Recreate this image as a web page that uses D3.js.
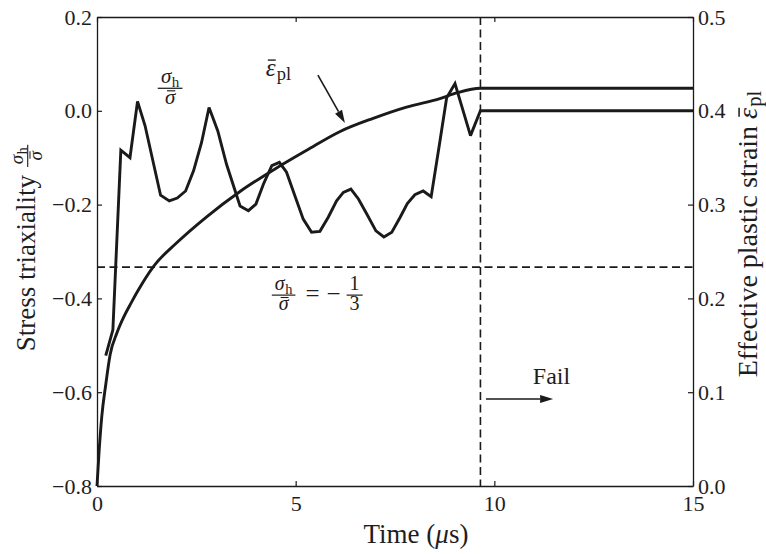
<!DOCTYPE html>
<html>
<head>
<meta charset="utf-8">
<script src="https://cdn.jsdelivr.net/npm/d3@7"></script>
<style>
  html, body { margin: 0; padding: 0; background: #fff; }
  svg text {
    font-family: "Liberation Serif", "Times New Roman", Times, Tinos, "Noto Serif", "DejaVu Serif", "Nimbus Roman", FreeSerif, serif;
    fill: #1e1e1e;
  }
</style>
</head>
<body>
<svg id="chart" width="766" height="554"></svg>
<script>
// ---- data ----
// stress triaxiality history (time in microseconds)
const triaxTime = [0.22, 0.40, 0.60, 0.83, 1.02, 1.21, 1.60, 1.82, 2.02, 2.23, 2.43, 2.63, 2.82, 3.04, 3.26, 3.60, 3.81, 4.00, 4.19, 4.40, 4.59, 4.77, 4.98, 5.19, 5.40, 5.61, 5.82, 6.03, 6.20, 6.39, 6.58, 6.79, 7.02, 7.22, 7.42, 7.63, 7.81, 8.00, 8.21, 8.41, 8.62, 8.80, 9.01, 9.20, 9.40, 9.65, 15.0];
const triaxValue = [-0.522, -0.467, -0.084, -0.100, 0.020, -0.032, -0.180, -0.192, -0.186, -0.171, -0.128, -0.068, 0.007, -0.043, -0.114, -0.203, -0.213, -0.199, -0.156, -0.117, -0.110, -0.131, -0.181, -0.231, -0.259, -0.257, -0.227, -0.192, -0.174, -0.167, -0.188, -0.220, -0.256, -0.269, -0.259, -0.227, -0.198, -0.179, -0.171, -0.183, -0.071, 0.028, 0.058, 0.004, -0.053, 0.000, 0.000];

// effective plastic strain history
const strainTime = [0, 0.05, 0.12, 0.22, 0.33, 0.50, 0.66, 0.87, 1.00, 1.42, 2.00, 2.76, 3.60, 4.44, 5.28, 6.12, 6.95, 7.79, 8.63, 9.05, 9.65, 15.0];
const strainValue = [0, 0.035, 0.074, 0.108, 0.140, 0.163, 0.179, 0.196, 0.206, 0.234, 0.259, 0.287, 0.314, 0.337, 0.358, 0.378, 0.392, 0.404, 0.413, 0.419, 0.424, 0.424];

const failTime = 9.65;           // failure instant
const triaxThreshold = -1 / 3;   // reference triaxiality level

// axis ticks
const timeTicks = [0, 5, 10, 15];
const timeTickLabels = ["0", "5", "10", "15"];
const triaxTicks = [-0.8, -0.6, -0.4, -0.2, 0.0, 0.2];
const triaxTickLabels = ["\u22120.8", "\u22120.6", "\u22120.4", "\u22120.2", "0.0", "0.2"];
const strainTicks = [0.0, 0.1, 0.2, 0.3, 0.4, 0.5];
const strainTickLabels = ["0.0", "0.1", "0.2", "0.3", "0.4", "0.5"];

// ---- layout ----
const svg = d3.select("#chart");
const ink = "#1a1a1a";
const plot = { left: 97, right: 693, top: 17, bottom: 486 };

const x = d3.scaleLinear().domain([0, 15]).range([plot.left, plot.right]);
const yL = d3.scaleLinear().domain([-0.8, 0.2]).range([plot.bottom, plot.top]);
const yR = d3.scaleLinear().domain([0, 0.5]).range([plot.bottom, plot.top]);

const TICK_FONT = 22;
const TITLE_FONT = 27;

// ---- reference lines ----
svg.append("line")
  .attr("x1", x(0)).attr("x2", x(15))
  .attr("y1", yL(triaxThreshold)).attr("y2", yL(triaxThreshold))
  .attr("stroke", ink).attr("stroke-width", 1.6).attr("stroke-dasharray", "8,4.5");
svg.append("line")
  .attr("x1", x(failTime)).attr("x2", x(failTime))
  .attr("y1", plot.top).attr("y2", plot.bottom)
  .attr("stroke", ink).attr("stroke-width", 1.6).attr("stroke-dasharray", "8,4.5");

// ---- series ----
const triaxLine = d3.line()
  .x((d, i) => x(triaxTime[i]))
  .y(d => yL(d));
svg.append("path")
  .attr("d", triaxLine(triaxValue))
  .attr("fill", "none").attr("stroke", ink).attr("stroke-width", 2.9)
  .attr("stroke-linejoin", "miter").attr("stroke-miterlimit", 3);

const strainLine = d3.line()
  .x((d, i) => x(strainTime[i]))
  .y(d => yR(d))
  .curve(d3.curveMonotoneX);
svg.append("path")
  .attr("d", strainLine(strainValue))
  .attr("fill", "none").attr("stroke", ink).attr("stroke-width", 2.9);

// ---- axes (ticks point inward) ----
function styleAxis(g) {
  g.attr("font-family", null);
  g.selectAll("path.domain").attr("stroke", ink).attr("stroke-width", 1.3);
  g.selectAll(".tick line").attr("stroke", ink).attr("stroke-width", 1.2);
  g.selectAll(".tick text").attr("font-size", TICK_FONT).attr("fill", "#1e1e1e");
}

svg.append("g").attr("transform", `translate(0,${plot.bottom})`)
  .call(d3.axisBottom(x).tickValues(timeTicks)
    .tickFormat((d, i) => timeTickLabels[i]).tickSizeInner(-5).tickSizeOuter(0).tickPadding(9))
  .call(styleAxis);
svg.append("g").attr("transform", `translate(0,${plot.top})`)
  .call(d3.axisTop(x).tickValues(timeTicks)
    .tickFormat("").tickSizeInner(-5).tickSizeOuter(0))
  .call(styleAxis);
svg.append("g").attr("transform", `translate(${plot.left},0)`)
  .call(d3.axisLeft(yL).tickValues(triaxTicks)
    .tickFormat((d, i) => triaxTickLabels[i]).tickSizeInner(-5).tickSizeOuter(0).tickPadding(5))
  .call(styleAxis);
svg.append("g").attr("transform", `translate(${plot.right},0)`)
  .call(d3.axisRight(yR).tickValues(strainTicks)
    .tickFormat((d, i) => strainTickLabels[i]).tickSizeInner(-5).tickSizeOuter(0).tickPadding(5))
  .call(styleAxis);

// ---- small math typesetting helpers ----
// Lays out a run of pieces left to right starting at (x0, y0); returns width.
function mathRun(g, pieces, x0, y0) {
  let cx = x0;
  pieces.forEach(p => {
    cx += (p.pre || 0);
    const by = y0 + (p.dy || 0);
    const t = g.append("text")
      .attr("x", cx).attr("y", by)
      .attr("font-size", p.size)
      .attr("font-style", p.italic ? "italic" : "normal")
      .text(p.text);
    const w = t.node().getComputedTextLength();
    if (p.bar) {
      g.append("line")
        .attr("x1", cx + w * 0.2).attr("x2", cx + w * 1.0)
        .attr("y1", by - p.size * 0.64).attr("y2", by - p.size * 0.64)
        .attr("stroke", "#1e1e1e").attr("stroke-width", Math.max(1, p.size * 0.055));
    }
    cx += w + (p.kern || 0);
  });
  return cx - x0;
}

// Fraction whose bar sits at axisY and starts at x0; returns width.
function fraction(g, num, den, x0, axisY, size) {
  const gn = g.append("g"), gd = g.append("g");
  const wn = mathRun(gn, num, 0, 0);
  const wd = mathRun(gd, den, 0, 0);
  const w = Math.max(wn, wd) + size * 0.3;
  gn.attr("transform", `translate(${x0 + (w - wn) / 2},${axisY - size * 0.24})`);
  gd.attr("transform", `translate(${x0 + (w - wd) / 2},${axisY + size * 0.76})`);
  g.append("line")
    .attr("x1", x0).attr("x2", x0 + w)
    .attr("y1", axisY).attr("y2", axisY)
    .attr("stroke", "#1e1e1e").attr("stroke-width", Math.max(1, size * 0.06));
  return w;
}

const sigmaH = s => [
  { text: "\u03C3", size: s, italic: true, kern: 0.5 },
  { text: "h", size: s * 0.72, dy: s * 0.18 }
];
const sigmaBar = s => [{ text: "\u03C3", size: s, italic: true, bar: true }];

// ---- annotations ----
// triaxiality curve label
{
  const s = 21;
  const g = svg.append("g");
  const w = fraction(g, sigmaH(s), sigmaBar(s), 0, 0, s);
  g.attr("transform", `translate(${x(1.84) - w / 2},${yL(0.048)})`);
}

// strain curve label and its pointer
{
  const s = 25;
  const g = svg.append("g");
  mathRun(g, [
    { text: "\u03B5", size: s, italic: true, bar: true, kern: 1 },
    { text: "pl", size: s * 0.74, dy: s * 0.16 }
  ], x(4.25), yR(0.437));
}

function arrow(x1, y1, x2, y2, head, width) {
  const a = Math.atan2(y2 - y1, x2 - x1);
  const bx = x2 - head * Math.cos(a), by = y2 - head * Math.sin(a);
  svg.append("line").attr("x1", x1).attr("y1", y1).attr("x2", bx).attr("y2", by)
    .attr("stroke", ink).attr("stroke-width", 1.6);
  const hw = width / 2;
  const pts = [
    [x2, y2],
    [bx + hw * Math.sin(a), by - hw * Math.cos(a)],
    [bx - hw * Math.sin(a), by + hw * Math.cos(a)]
  ];
  svg.append("polygon").attr("points", pts.map(p => p.join(",")).join(" ")).attr("fill", ink);
}
arrow(x(5.56), yR(0.438), x(6.24), yR(0.387), 13, 8);

// threshold label:  sigma_h / sigma_bar = -1/3
{
  const s = 20, big = 25;
  const g = svg.append("g");
  let cx = 0;
  cx += fraction(g, sigmaH(s), sigmaBar(s), cx, 0, s);
  cx += mathRun(g, [
    { text: "=", size: big, pre: 10, kern: 7 },
    { text: "\u2212", size: big, kern: 6 }
  ], cx, big * 0.28);
  cx += fraction(g, [{ text: "1", size: s }], [{ text: "3", size: s }], cx, 0, s);
  g.attr("transform", `translate(${x(4.40)},${yL(-0.393)})`);
}

// failure marker
svg.append("text")
  .attr("x", x(10.97)).attr("y", yL(-0.583))
  .attr("font-size", 24).text("Fail");
arrow(x(9.79), yL(-0.6145), x(11.48), yL(-0.6145), 13, 8);

// ---- axis titles ----
svg.append("text")
  .attr("x", 416).attr("y", 543)
  .attr("text-anchor", "middle").attr("font-size", TITLE_FONT)
  .html('Time (<tspan font-style="italic">\u03BC</tspan>s)');

// left: Stress triaxiality sigma_h / sigma_bar
{
  const outer = svg.append("g").attr("transform", "translate(35,248) rotate(-90)");
  const g = outer.append("g");
  let cx = mathRun(g, [{ text: "Stress triaxiality", size: TITLE_FONT, kern: 8 }], 0, 0);
  cx += fraction(g, sigmaH(19), sigmaBar(19), cx, -TITLE_FONT * 0.27, 19);
  g.attr("transform", `translate(${-cx / 2},0)`);
}

// right: Effective plastic strain eps_bar_pl
{
  const outer = svg.append("g").attr("transform", "translate(757,234) rotate(-90)");
  const g = outer.append("g");
  const w = mathRun(g, [
    { text: "Effective plastic strain", size: TITLE_FONT + 1, kern: 7 },
    { text: "\u03B5", size: TITLE_FONT + 1, italic: true, bar: true, kern: 1 },
    { text: "pl", size: (TITLE_FONT + 1) * 0.74, dy: TITLE_FONT * 0.16 }
  ], 0, 0);
  g.attr("transform", `translate(${-w / 2},0)`);
}
</script>
</body>
</html>
